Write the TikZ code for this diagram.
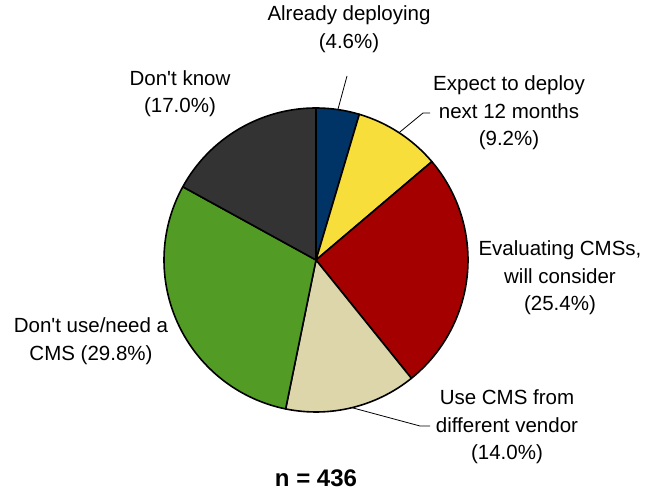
\documentclass[tikz,border=0pt]{standalone}
\usepackage{fontspec}
\setmainfont{Liberation Sans}
\definecolor{cblue}{RGB}{0,51,102}
\definecolor{cyellow}{RGB}{248,222,58}
\definecolor{cred}{RGB}{165,0,0}
\definecolor{cbeige}{RGB}{221,214,170}
\definecolor{cgreen}{RGB}{82,156,38}
\definecolor{cdark}{RGB}{51,51,51}
\begin{document}
\begin{tikzpicture}[x=1pt,y=1pt,
  slice/.style={draw=black,line width=1.6pt,line join=round},
  lbl/.style={inner sep=0pt,align=center,font=\fontsize{20.5}{27.5}\selectfont},
  leader/.style={draw=black,line width=0.8pt}]
\useasboundingbox (0,0) rectangle (646,494);
\coordinate (c) at (316,234);
\def\R{152}
% slices
\filldraw[slice,fill=cblue] (c) -- ++(90:\R) arc[start angle=90,end angle=73.44,radius=\R] -- cycle;
\filldraw[slice,fill=cyellow] (c) -- ++(73.44:\R) arc[start angle=73.44,end angle=40.32,radius=\R] -- cycle;
\filldraw[slice,fill=cred] (c) -- ++(40.32:\R) arc[start angle=40.32,end angle=-51.12,radius=\R] -- cycle;
\filldraw[slice,fill=cbeige] (c) -- ++(-51.12:\R) arc[start angle=-51.12,end angle=-101.52,radius=\R] -- cycle;
\filldraw[slice,fill=cgreen] (c) -- ++(-101.52:\R) arc[start angle=-101.52,end angle=-208.8,radius=\R] -- cycle;
\filldraw[slice,fill=cdark] (c) -- ++(-208.8:\R) arc[start angle=-208.8,end angle=-270,radius=\R] -- cycle;
% labels
\node[lbl] (lA) at (349,465) {Already deploying\\(4.6\%)};
\node[lbl] (lE) at (509,381) {Expect to deploy\\next 12 months\\(9.2\%)};
\node[lbl] (lV) at (560,216) {Evaluating CMSs,\\will consider\\(25.4\%)};
\node[lbl] (lU) at (507,67) {Use CMS from\\different vendor\\(14.0\%)};
\node[lbl] (lN) at (91,153) {Don\textquotesingle t use/need a\\CMS (29.8\%)};
\node[lbl] (lK) at (180,400.5) {Don\textquotesingle t know\\(17.0\%)};
\node[inner sep=0pt,font=\fontsize{24}{28}\selectfont\bfseries] (nn) at (316,16) {n = 436};
% leader lines
\path (c) ++(81.72:\R) coordinate (pA);
\coordinate (eA) at (347,418);
\draw[leader] (pA) -- (eA);
\path (c) ++(56.88:\R) coordinate (pE);
\coordinate (kE) at (423,381);
\coordinate (eE) at (430,381);
\draw[leader] (pE) -- (kE) -- (eE);
\path (c) ++(-76.32:\R) coordinate (pU);
\coordinate (kU) at (420,68);
\coordinate (eU) at (430,68);
\draw[leader] (pU) -- (kU) -- (eU);
\end{tikzpicture}
\end{document}
